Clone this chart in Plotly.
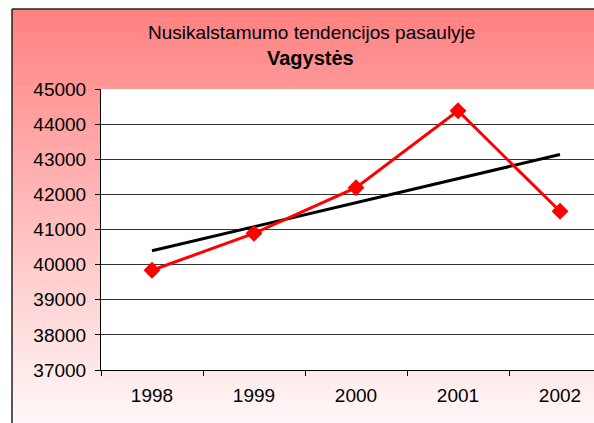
import numpy as np
import plotly.graph_objects as go

# ---- data ----
years = ["1998", "1999", "2000", "2001", "2002"]
thefts = [39840, 40890, 42190, 44380, 41520]
y_ticks = [37000, 38000, 39000, 40000, 41000, 42000, 43000, 44000, 45000]
y_tick_labels = ["37000", "38000", "39000", "40000", "41000", "42000", "43000", "44000", "45000"]
title_line1 = "Nusikalstamumo tendencijos pasaulyje"
title_line2 = "Vagystės"

# linear trend from the data
xi = np.arange(len(thefts))
slope, intercept = np.polyfit(xi, thefts, 1)
trend = list(slope * xi + intercept)

W, H = 594, 423
FONT = "Liberation Sans, Arial, sans-serif"

plot_l, plot_t, plot_b = 101, 89, 370
plot_w = W - plot_l
plot_h = plot_b - plot_t


def px_x(px):
    return (px - plot_l) / plot_w


def px_y(py):
    return 1 - (py - plot_t) / plot_h


fig = go.Figure()
fig.add_trace(go.Scatter(x=years, y=trend, mode="lines",
                         line=dict(color="black", width=3), hoverinfo="skip"))
fig.add_trace(go.Scatter(x=years, y=thefts, mode="lines+markers",
                         line=dict(color="#FF0000", width=3),
                         marker=dict(symbol="diamond", size=13, color="#FF0000")))

# gradient background of the chart area (stripes)
shapes = []
x_left = 12
y_top = 9
n = 90
for i in range(n):
    y0 = y_top + (H - y_top) * i / n
    y1 = y_top + (H - y_top) * (i + 1) / n + 0.6
    t = (i + 0.5) / n
    g = int(round(128 + (248 - 128) * t))
    shapes.append(dict(type="rect", xref="paper", yref="paper",
                       x0=px_x(x_left), x1=px_x(W + 2),
                       y0=px_y(y1), y1=px_y(y0),
                       fillcolor=f"rgb(255,{g},{g})", line=dict(width=0),
                       layer="below"))
# white plot area
shapes.append(dict(type="rect", xref="paper", yref="paper",
                   x0=0, x1=px_x(W + 2), y0=0, y1=1,
                   fillcolor="white", line=dict(width=0), layer="below"))
# chart frame (left and top edges visible)
shapes.append(dict(type="line", xref="paper", yref="paper",
                   x0=px_x(x_left), x1=px_x(x_left), y0=px_y(H + 2), y1=px_y(y_top),
                   line=dict(color="#222222", width=1.5), layer="below"))
shapes.append(dict(type="line", xref="paper", yref="paper",
                   x0=px_x(x_left), x1=px_x(W + 2), y0=px_y(y_top), y1=px_y(y_top),
                   line=dict(color="#222222", width=1.5), layer="below"))

cat_w = 102.0
x_range = [-0.5, -0.5 + plot_w / cat_w]

fig.update_layout(
    width=W, height=H,
    margin=dict(l=plot_l, r=0, t=plot_t, b=H - plot_b, pad=0),
    paper_bgcolor="white", plot_bgcolor="white",
    showlegend=False,
    shapes=shapes,
    font=dict(family=FONT, color="black"),
    annotations=[
        dict(text=title_line1, xref="paper", yref="paper",
             x=px_x(311), y=px_y(32),
             xanchor="center", yanchor="middle", showarrow=False,
             font=dict(family=FONT, size=19, color="black")),
        dict(text="<b>" + title_line2 + "</b>", xref="paper", yref="paper",
             x=px_x(310), y=px_y(58),
             xanchor="center", yanchor="middle", showarrow=False,
             font=dict(family=FONT, size=20, color="black")),
    ],
    xaxis=dict(type="category", range=x_range, tickson="boundaries",
               ticks="outside", ticklen=5, tickcolor="black",
               showline=True, linecolor="black", linewidth=1,
               showgrid=False, zeroline=False, ticklabelstandoff=8,
               tickfont=dict(family=FONT, size=19, color="black")),
    yaxis=dict(range=[37000, 45000], tickvals=y_ticks, ticktext=y_tick_labels,
               ticks="outside", ticklen=5, tickcolor="black",
               showline=True, linecolor="black", linewidth=1,
               showgrid=True, gridcolor="#333333", gridwidth=1,
               zeroline=False, ticklabelstandoff=5,
               tickfont=dict(family=FONT, size=19, color="black")),
)

fig.write_html("out.html", config={"displayModeBar": False},
               post_script="document.body.style.margin='0';")
